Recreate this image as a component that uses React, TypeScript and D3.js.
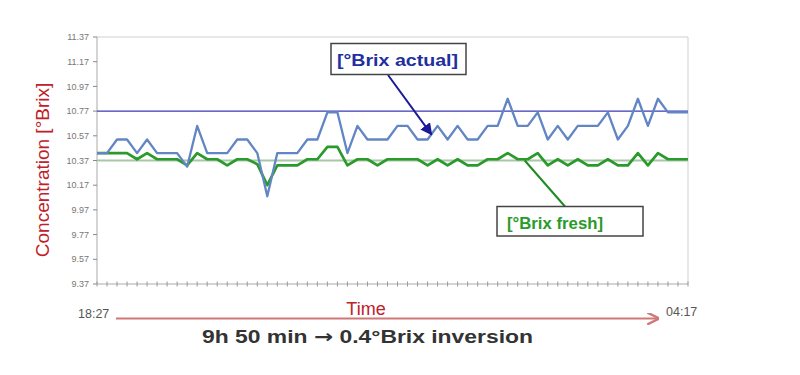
import * as d3 from 'd3';
import {useMemo} from 'react';

const WIDTH = 800;
const HEIGHT = 375;

// one reading every 10 minutes, 18:27 -> 04:17
const brixActual = [
  10.43, 10.43, 10.54, 10.54, 10.43, 10.54, 10.43, 10.43, 10.43, 10.32,
  10.65, 10.43, 10.43, 10.43, 10.54, 10.54, 10.43, 10.08, 10.43, 10.43,
  10.43, 10.54, 10.54, 10.76, 10.76, 10.43, 10.65, 10.54, 10.54, 10.54,
  10.65, 10.65, 10.54, 10.54, 10.65, 10.54, 10.65, 10.54, 10.54, 10.65,
  10.65, 10.87, 10.65, 10.65, 10.76, 10.54, 10.65, 10.54, 10.65, 10.65,
  10.65, 10.76, 10.54, 10.65, 10.87, 10.65, 10.87, 10.76, 10.76, 10.76,
];

const brixFresh = [
  10.43, 10.43, 10.43, 10.43, 10.38, 10.43, 10.38, 10.38, 10.38, 10.33,
  10.43, 10.38, 10.38, 10.33, 10.38, 10.38, 10.34, 10.17, 10.33, 10.33,
  10.33, 10.38, 10.38, 10.48, 10.48, 10.33, 10.38, 10.38, 10.33, 10.38,
  10.38, 10.38, 10.38, 10.33, 10.38, 10.33, 10.38, 10.33, 10.33, 10.38,
  10.38, 10.43, 10.38, 10.38, 10.43, 10.33, 10.38, 10.33, 10.38, 10.33,
  10.33, 10.38, 10.33, 10.33, 10.43, 10.33, 10.43, 10.38, 10.38, 10.38,
];

const yTicks = [9.37, 9.57, 9.77, 9.97, 10.17, 10.37, 10.57, 10.77, 10.97, 11.17, 11.37];
const timeLabels = ['18:27', '04:17'];
const actualRef = 10.77;
const freshRef = 10.37;

const FONT = '"Liberation Sans", Arial, sans-serif';

function App() {
  const x = useMemo(() => d3.scaleLinear().domain([0, brixActual.length - 1]).range([97, 688]), []);
  const y = useMemo(() => d3.scaleLinear().domain([9.37, 11.37]).range([284, 37]), []);

  const line = useMemo(
    () =>
      d3
        .line<number>()
        .x((_, i) => x(i))
        .y((d) => y(d))
        .curve(d3.curveLinear),
    [x, y],
  );

  const xs = d3.range(brixActual.length);

  return (
    <svg
      width={WIDTH}
      height={HEIGHT}
      style={{position: 'absolute', left: 0, top: 0, background: '#fff'}}
      fontFamily={FONT}
    >
      <defs>
        <marker id="blueHead" viewBox="0 0 10 10" refX="9" refY="5" markerWidth="6" markerHeight="6" orient="auto">
          <path d="M0,0 L10,5 L0,10 z" fill="#1a1a9a" />
        </marker>
        <marker id="redHead" viewBox="0 0 10 10" refX="9" refY="5" markerWidth="6" markerHeight="6" orient="auto">
          <path d="M0,0 L10,5 L0,10" fill="none" stroke="#d07878" strokeWidth={2} />
        </marker>
      </defs>

      {/* frame */}
      <line x1={97} x2={688} y1={y(11.37)} y2={y(11.37)} stroke="#cfcfcf" />
      <line x1={688} x2={688} y1={y(11.37)} y2={y(9.37)} stroke="#cfcfcf" />
      <line x1={97} x2={97} y1={y(11.37)} y2={y(9.37)} stroke="#aaa" />
      <line x1={97} x2={688} y1={y(9.37)} y2={y(9.37)} stroke="#aaa" />

      {/* y ticks */}
      {yTicks.map((t) => (
        <g key={t}>
          <line x1={93} x2={97} y1={y(t)} y2={y(t)} stroke="#888" />
          <text x={89} y={y(t)} dy="0.35em" textAnchor="end" fontSize={9} fill="#777">
            {t.toFixed(2)}
          </text>
        </g>
      ))}

      {/* x ticks */}
      {xs.map((i) => (
        <line key={i} x1={x(i)} x2={x(i)} y1={y(9.37) - 2.5} y2={y(9.37) + 2.5} stroke="#999" />
      ))}

      {/* reference levels */}
      <line x1={97} x2={688} y1={y(freshRef)} y2={y(freshRef)} stroke="#a9c6a9" strokeWidth={2} />
      <line x1={97} x2={688} y1={y(actualRef)} y2={y(actualRef)} stroke="#3a3ab4" strokeWidth={1.2} />

      {/* series */}
      <path d={line(brixFresh)!} fill="none" stroke="#2a9a2a" strokeWidth={2.7} strokeLinejoin="round" />
      <path d={line(brixActual)!} fill="none" stroke="#6286c4" strokeWidth={2.3} strokeLinejoin="round" />

      {/* annotation: actual */}
      <line x1={388} y1={75} x2={x(33.4)} y2={y(10.58)} stroke="#1a1a9a" strokeWidth={2} markerEnd="url(#blueHead)" />
      <rect x={331} y={43.5} width={135} height={31} fill="#fff" stroke="#444" strokeWidth={1.5} />
      <text x={337} y={66} fontSize={17} fontWeight="bold" fill="#1f2f9f" textLength={121} lengthAdjust="spacingAndGlyphs">
        [°Brix actual]
      </text>

      {/* annotation: fresh */}
      <line x1={565} y1={206.5} x2={x(42.7)} y2={y(10.37)} stroke="#1f8a1f" strokeWidth={2} />
      <rect x={497} y={206.5} width={146} height={29.5} fill="#fff" stroke="#444" strokeWidth={1.5} />
      <text x={507} y={229} fontSize={17} fontWeight="bold" fill="#2a9a2a" textLength={96} lengthAdjust="spacingAndGlyphs">
        [°Brix fresh]
      </text>

      {/* y axis title */}
      <text
        transform="translate(49,170) rotate(-90)"
        textAnchor="middle"
        fontSize={19}
        fill="#c0202a"
      >
        Concentration [°Brix]
      </text>

      {/* time axis */}
      <text x={78} y={318} fontSize={12.5} fill="#555">{timeLabels[0]}</text>
      <text x={666} y={316} fontSize={12.5} fill="#555">{timeLabels[1]}</text>
      <line x1={116} x2={658} y1={318.5} y2={318.5} stroke="#d07878" strokeWidth={2} markerEnd="url(#redHead)" />
      <text x={366} y={315} textAnchor="middle" fontSize={18} fill="#c0202a">Time</text>
      <text x={202} y={343} fontSize={18} fontWeight="bold" fill="#333" textLength={331} lengthAdjust="spacingAndGlyphs">
        9h 50 min <tspan fontFamily="DejaVu Sans">→</tspan> 0.4°Brix inversion
      </text>
    </svg>
  );
}

export default App;
